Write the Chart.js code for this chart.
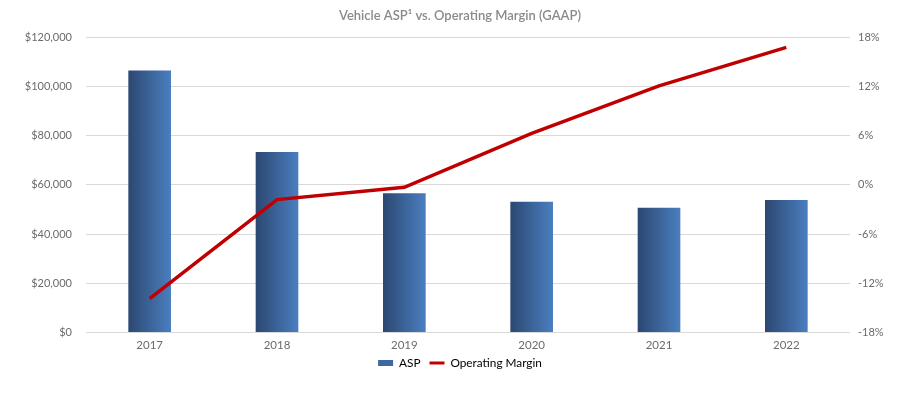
<!DOCTYPE html>
<html>
<head>
<meta charset="utf-8">
<script src="https://cdn.jsdelivr.net/npm/chart.js@4"></script>
<style>
  html, body { margin: 0; padding: 0; background: #fff; }
  #wrap { width: 920px; height: 397px; }
</style>
</head>
<body>
<div id="wrap"><canvas id="chart" width="920" height="397"></canvas></div>
<script>
'use strict';

const years = ['2017', '2018', '2019', '2020', '2021', '2022'];
const asp = [106500, 73300, 56500, 53000, 50600, 53700];
const opMargin = [-13.9, -1.8, -0.3, 6.3, 12.1, 16.8];
const aspTicks = [0, 20000, 40000, 60000, 80000, 100000, 120000];
const marginTicks = [-18, -12, -6, 0, 6, 12, 18];

const ctx = document.getElementById('chart');
const fontFamily = 'Lato, "Open Sans", sans-serif';

function barGradient(context) {
  const chart = context.chart;
  if (!chart.chartArea || !chart.scales.x) return '#3d68a3';
  const x = chart.scales.x.getPixelForValue(context.dataIndex);
  const g = chart.ctx.createLinearGradient(x - 21, 0, x + 21, 0);
  g.addColorStop(0, '#2c4872');
  g.addColorStop(1, '#4a7ebf');
  return g;
}

Chart.defaults.font.family = fontFamily;
Chart.defaults.color = '#6b6b6b';

new Chart(ctx, {
  type: 'bar',
  data: {
    labels: years,
    datasets: [{
      type: 'line',
      label: 'Operating Margin',
      data: opMargin,
      yAxisID: 'y1',
      borderColor: '#c00000',
      backgroundColor: '#c00000',
      borderWidth: 3.5,
      pointRadius: 0,
      tension: 0,
      order: 0
    }, {
      label: 'ASP',
      data: asp,
      yAxisID: 'y',
      backgroundColor: barGradient,
      borderWidth: 0,
      barThickness: 42,
      order: 1
    }]
  },
  options: {
    responsive: false,
    animation: false,
    layout: { padding: { top: 8, bottom: 18, left: 0, right: 0 } },
    plugins: {
      title: {
        display: true,
        text: 'Vehicle ASP¹ vs. Operating Margin (GAAP)',
        color: '#8a8a8a',
        font: { size: 13, weight: '600' },
        padding: { top: 0, bottom: 14 }
      },
      legend: {
        position: 'bottom',
        labels: {
          color: '#6b6b6b',
          font: { size: 11.8 },
          padding: 6,
          boxHeight: 6,
          generateLabels(chart) {
            return [{
              text: 'ASP ', fillStyle: '#3d68a3', strokeStyle: '#3d68a3',
              lineWidth: 0, pointStyle: 'rect', datasetIndex: 1
            }, {
              text: 'Operating Margin', fillStyle: '#c00000', strokeStyle: '#c00000',
              lineWidth: 3, pointStyle: 'line', datasetIndex: 0
            }];
          },
          usePointStyle: true,
          pointStyleWidth: 15
        }
      },
      tooltip: { enabled: false }
    },
    scales: {
      x: {
        grid: { display: false, drawTicks: false },
        border: { display: false },
        afterFit(axis) { axis.height = 19; },
        ticks: { color: '#6b6b6b', font: { size: 11.5 }, padding: 6 }
      },
      y: {
        position: 'left',
        min: 0,
        max: 120000,
        afterBuildTicks(axis) { axis.ticks = aspTicks.map(v => ({ value: v })); },
        afterFit(axis) { axis.width = 86; },
        grid: { color: '#d9d9d9', lineWidth: 1, drawTicks: false },
        border: { display: false },
        ticks: {
          color: '#6b6b6b',
          font: { size: 11 },
          padding: 14,
          callback: v => '$' + v.toLocaleString('en-US')
        }
      },
      y1: {
        position: 'right',
        min: -18,
        max: 18,
        afterBuildTicks(axis) { axis.ticks = marginTicks.map(v => ({ value: v })); },
        afterFit(axis) { axis.width = 70; },
        grid: { display: false, drawTicks: false },
        border: { display: false },
        ticks: {
          color: '#6b6b6b',
          font: { size: 11 },
          padding: 8,
          callback: v => v + '%'
        }
      }
    }
  }
});
</script>
</body>
</html>
